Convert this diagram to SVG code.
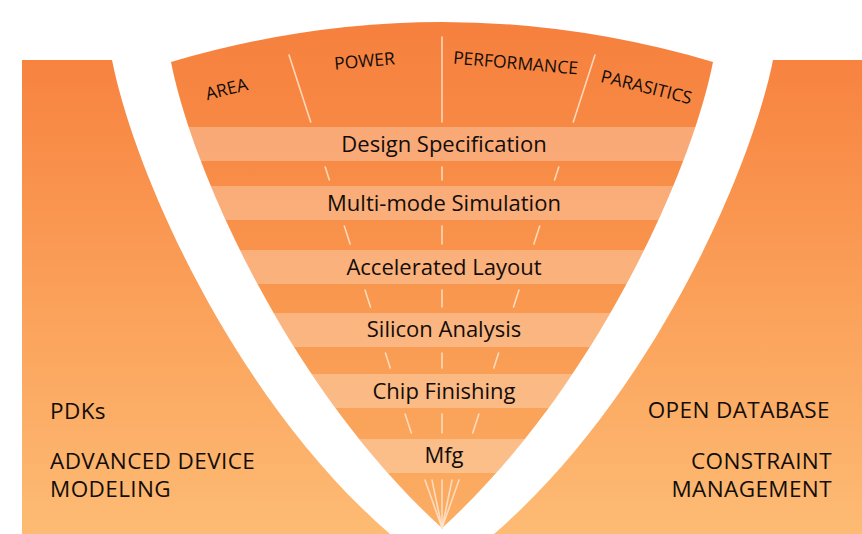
<svg xmlns="http://www.w3.org/2000/svg" width="862" height="534" viewBox="0 0 862 534">
<style>
.t{font-family:"Open Sans","Noto Sans","Liberation Sans",sans-serif;fill:#120d0a;font-weight:500}
.band-label{font-size:22px;text-anchor:middle}
.top-label{font-size:17.5px;text-anchor:middle}
.side{font-size:22.5px;letter-spacing:0.4px}
.tick{stroke:#FFE4CC;stroke-width:1.6;stroke-opacity:0.85;fill:none;stroke-linecap:round}
.band{fill:#FFFFFF;fill-opacity:0.27}
</style>
<defs>
<linearGradient id="gSide" gradientUnits="userSpaceOnUse" x1="0" y1="60" x2="0" y2="534">
<stop offset="0" stop-color="#F7833F"/>
<stop offset="0.55" stop-color="#FBA35C"/>
<stop offset="1" stop-color="#FDBB74"/>
</linearGradient>
<linearGradient id="gCone" gradientUnits="userSpaceOnUse" x1="0" y1="20" x2="0" y2="528">
<stop offset="0" stop-color="#F6803E"/>
<stop offset="0.5" stop-color="#F9954C"/>
<stop offset="1" stop-color="#FBAE64"/>
</linearGradient>
<clipPath id="coneClip">
<path d="M171,62 Q442,-18 713,62 C692,170 594,390 442,528 C290,390 192,170 171,62 Z"/>
</clipPath>
</defs>

<g id="left-region">
<path d="M22,60 L112,60 C135,175 235,400 390,534 L22,534 Z" fill="url(#gSide)"/>
<text class="t side" x="50" y="419">PDKs</text>
<text class="t side" x="50" y="469">ADVANCED DEVICE</text>
<text class="t side" x="50" y="497">MODELING</text>
</g>

<g id="right-region">
<path d="M773,60 L862,60 L862,534 L494,534 C649,400 750,175 773,60 Z" fill="url(#gSide)"/>
<text class="t side" x="830" y="418" text-anchor="end">OPEN DATABASE</text>
<text class="t side" x="832" y="469" text-anchor="end">CONSTRAINT</text>
<text class="t side" x="832" y="497" text-anchor="end">MANAGEMENT</text>
</g>

<g id="cone">
<path d="M171,62 Q442,-18 713,62 C692,170 594,390 442,528 C290,390 192,170 171,62 Z" fill="url(#gCone)"/>
<g clip-path="url(#coneClip)">
<rect class="band" x="150" y="127" width="600" height="34"/>
<rect class="band" x="150" y="186" width="600" height="34"/>
<rect class="band" x="150" y="250" width="600" height="34"/>
<rect class="band" x="150" y="313" width="600" height="34"/>
<rect class="band" x="150" y="374" width="600" height="34"/>
<rect class="band" x="150" y="439" width="600" height="34"/>
</g>
</g>

<g id="connectors">
<line class="tick" x1="289" y1="55" x2="310.7" y2="122"/>
<line class="tick" x1="442" y1="37" x2="442" y2="122"/>
<line class="tick" x1="595" y1="55" x2="573.3" y2="122"/>

<line class="tick" x1="325.2" y1="167" x2="329.4" y2="180"/>
<line class="tick" x1="442" y1="167" x2="442" y2="180"/>
<line class="tick" x1="558.8" y1="167" x2="554.6" y2="180"/>

<line class="tick" x1="344.3" y1="226" x2="350.1" y2="244"/>
<line class="tick" x1="442" y1="226" x2="442" y2="244"/>
<line class="tick" x1="539.7" y1="226" x2="533.9" y2="244"/>

<line class="tick" x1="365" y1="290" x2="370.5" y2="307"/>
<line class="tick" x1="442" y1="290" x2="442" y2="307"/>
<line class="tick" x1="519" y1="290" x2="513.5" y2="307"/>

<line class="tick" x1="385.4" y1="353" x2="390.2" y2="368"/>
<line class="tick" x1="442" y1="353" x2="442" y2="368"/>
<line class="tick" x1="498.6" y1="353" x2="493.8" y2="368"/>

<line class="tick" x1="405.1" y1="414" x2="411.3" y2="433"/>
<line class="tick" x1="442" y1="414" x2="442" y2="433"/>
<line class="tick" x1="478.9" y1="414" x2="472.7" y2="433"/>

<line class="tick" x1="425" y1="480" x2="442" y2="528"/>
<line class="tick" x1="432" y1="480" x2="442" y2="528"/>
<line class="tick" x1="442" y1="480" x2="442" y2="528"/>
<line class="tick" x1="452" y1="480" x2="442" y2="528"/>
<line class="tick" x1="459" y1="480" x2="442" y2="528"/>
</g>

<g id="top-labels">
<text class="t top-label" transform="translate(228,95) rotate(-14)">AREA</text>
<text class="t top-label" transform="translate(365,67) rotate(-5)">POWER</text>
<text class="t top-label" transform="translate(515,69) rotate(5)">PERFORMANCE</text>
<text class="t top-label" transform="translate(645,93) rotate(14)">PARASITICS</text>
</g>

<g id="node-design-spec"><text class="t band-label" x="444" y="152">Design Specification</text></g>
<g id="node-multimode"><text class="t band-label" x="444" y="211">Multi-mode Simulation</text></g>
<g id="node-layout"><text class="t band-label" x="444" y="275">Accelerated Layout</text></g>
<g id="node-silicon"><text class="t band-label" x="444" y="337">Silicon Analysis</text></g>
<g id="node-chip"><text class="t band-label" x="444" y="399">Chip Finishing</text></g>
<g id="node-mfg"><text class="t band-label" x="444" y="463">Mfg</text></g>
</svg>
